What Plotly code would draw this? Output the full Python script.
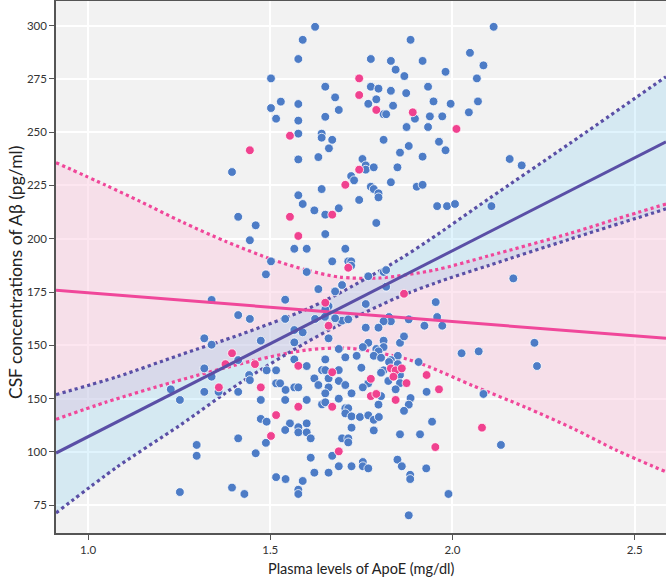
import plotly.graph_objects as go

# ---------------- data ----------------
blue_pts = [
    (1.623,299.4),(1.589,293.3),(1.577,284.3),(1.502,275.2),(1.651,271.3),(1.678,266.3),(1.529,264.3),
    (1.577,263.2),(1.502,261.3),(1.688,260.4),(1.516,256.3),(1.651,257.2),(1.577,255.4),(1.577,249.3),
    (1.641,249.3),(1.641,247.4),(1.670,246.4),(1.661,242.4),(1.577,237.2),(1.632,238.3),(1.395,231.3),
    (1.722,229.4),(1.730,227.4),(1.641,223.3),(1.577,220.4),(1.589,216.3),(1.621,213.3),(1.651,211.3),
    (1.688,214.3),(1.412,210.3),(1.460,206.3),(1.651,202.2),(1.444,199.3),(1.566,195.3),(1.600,195.3),
    (1.706,195.3),(1.502,189.4),(1.670,189.4),(1.714,189.4),(1.722,189.4),(1.722,187.4),(1.488,183.3),
    (1.600,184.4),(1.744,218.2),
    (2.113,299.4),(1.885,293.3),(2.048,287.2),(1.776,284.3),(1.831,283.4),(1.918,283.4),(2.085,281.3),
    (1.844,279.3),(1.981,278.3),(1.868,276.3),(2.067,275.2),(1.776,271.3),(1.797,270.4),(1.831,269.4),
    (1.933,271.3),(1.873,268.3),(1.791,265.4),(1.948,264.4),(2.070,264.4),(1.769,263.3),(1.837,262.4),
    (1.995,263.3),(1.811,258.4),(1.818,258.4),(1.938,257.4),(1.972,257.4),(2.045,259.3),(1.897,256.3),
    (1.874,252.4),(1.933,252.4),(1.811,246.4),(1.880,243.5),(1.963,245.5),(1.981,241.5),(1.856,240.4),
    (1.753,237.4),(1.762,234.4),(1.762,232.4),(1.784,233.5),(1.849,233.5),(1.918,238.5),(2.157,237.4),
    (2.190,234.4),(1.831,226.5),(1.776,224.4),(1.784,223.3),(1.797,221.3),(1.797,219.4),(1.902,224.4),
    (1.918,225.3),(1.958,215.3),(1.985,215.3),(2.007,216.3),(2.107,215.3),(1.791,207.4),(1.769,182.4),
    (1.811,184.4),(1.818,185.3),(2.167,181.4),
    (1.632,176.4),(1.697,178.3),(1.678,175.3),(1.339,171.3),(1.541,171.4),(1.660,168.4),(1.651,166.9),
    (1.412,164.2),(1.444,162.4),(1.541,162.4),(1.623,162.4),(1.650,163.4),(1.697,161.6),(1.678,162.7),
    (1.714,162.2),(1.566,157.2),(1.589,156.1),(1.660,153.3),(1.319,153.3),(1.474,152.2),(1.339,150.3),
    (1.566,151.4),(1.688,148.3),(1.319,139.2),(1.339,135.3),(1.412,143.1),(1.442,136.1),(1.444,133.7),
    (1.516,138.3),(1.490,138.3),(1.600,140.3),(1.651,143.4),(1.706,144.4),(1.737,145.1),(1.642,138.4),
    (1.651,138.4),(1.688,138.4),(1.621,134.5),(1.516,132.2),(1.527,132.2),(1.542,129.1),(1.566,130.3),
    (1.577,130.3),(1.632,131.4),(1.660,134.5),(1.688,133.3),(1.706,131.4),(1.723,127.5),(1.660,130.3),
    (1.651,127.5),(1.227,129.4),(1.252,124.4),(1.319,128.2),(1.358,128.2),(1.412,128.2),(1.474,124.4),
    (1.600,124.4),(1.642,122.3),(1.651,123.3),(1.706,120.5),(1.714,120.5),(1.706,118.1),(1.723,116.7),
    (1.474,115.5),(1.490,114.2),(1.554,113.4),(1.541,110.3),(1.577,111.6),(1.577,109.2),(1.600,113.4),
    (1.600,109.2),(1.723,111.4),(1.611,106.4),(1.412,106.4),(1.697,106.4),(1.714,106.4),(1.714,104.5),
    (1.298,103.3),(1.298,98.2),(1.488,104.3),(1.460,99.4),(1.670,98.2),(1.611,97.3),(1.688,93.3),
    (1.723,93.3),(1.621,90.3),(1.660,90.3),(1.516,88.2),(1.542,87.3),(1.589,86.4),(1.577,82.3),
    (1.577,80.3),(1.395,83.3),(1.429,80.3),(1.252,81.2),
    (1.954,170.3),(1.958,163.3),(1.972,159.2),(1.923,159.2),(1.880,162.2),(1.762,169.4),(1.818,177.5),
    (1.826,163.3),(1.831,161.3),(1.811,161.3),(1.797,158.3),(1.762,158.3),(1.769,151.2),(1.754,149.2),
    (1.811,152.2),(1.811,149.2),(1.791,148.3),(1.797,147.2),(1.784,145.1),(1.804,144.2),(1.856,151.2),
    (1.867,154.2),(1.850,145.1),(1.831,143.1),(1.826,142.2),(1.907,142.2),(1.850,141.2),(1.811,138.3),
    (1.804,137.2),(1.856,136.1),(1.824,133.3),(1.856,132.3),(1.769,132.2),(1.754,130.3),(1.844,129.4),
    (1.929,128.2),(1.804,126.2),(1.885,125.3),(1.880,122.2),(1.867,119.3),(1.797,122.2),(2.085,127.2),
    (2.025,146.3),(2.072,147.2),(2.225,151.2),(2.232,140.3),(1.746,116.4),(1.769,117.2),(1.784,115.1),
    (1.798,116.4),(1.784,110.1),(1.944,114.2),(1.856,108.3),(1.911,108.3),(2.133,103.3),(1.754,95.3),
    (1.754,93.3),(1.769,92.3),(1.849,96.4),(1.861,93.3),(1.884,89.3),(1.884,87.3),(1.928,92.3),
    (1.989,80.3),(1.880,70.3),(1.541,124.4),(1.566,143.4),(1.750,139.5),(1.688,125.0),
]
pink_pts = [
    (1.744,275.2),(1.744,267.4),(1.791,260.4),(1.891,259.3),(2.011,251.5),(1.554,248.3),(1.444,241.5),
    (1.744,232.4),(1.706,225.3),(1.670,211.3),(1.554,210.3),(1.577,201.3),(1.714,186.4),(1.651,170.0),
    (1.867,174.2),(1.660,159.2),(1.395,146.3),(1.377,141.2),(1.458,141.2),(1.577,140.4),(1.670,137.4),
    (1.474,130.3),(1.359,130.3),(1.577,121.2),(1.670,121.2),(1.516,117.3),(1.502,107.5),(1.688,100.3),
    (1.831,139.2),(1.844,138.3),(1.861,139.2),(1.838,135.3),(1.874,132.3),(1.776,134.3),(1.929,136.1),
    (1.963,129.4),(1.776,126.2),(1.791,127.2),(1.844,124.4),(2.081,111.4),(1.953,102.3),
]
blue_x = [p[0] for p in blue_pts]
blue_y = [p[1] for p in blue_pts]
pink_x = [p[0] for p in pink_pts]
pink_y = [p[1] for p in pink_pts]

# regression lines (end points read at the plot edges)
purple_fit_x = [0.912, 2.586]
purple_fit_y = [99.5, 245.5]
pink_fit_x = [0.912, 2.586]
pink_fit_y = [175.8, 153.3]

# confidence bands
purple_up_x = [0.912, 1.080, 1.252, 1.420, 1.595, 1.680, 1.851, 1.938, 2.100, 2.322, 2.586]
purple_up_y = [126.9, 135.3, 145.5, 155.2, 166.6, 173.6, 190.0, 199.6, 218.8, 244.7, 276.0]
purple_lo_x = [0.912, 1.080, 1.252, 1.420, 1.595, 1.680, 1.851, 1.952, 2.100, 2.322, 2.586]
purple_lo_y = [71.4, 93.0, 112.5, 132.7, 151.0, 158.8, 172.6, 179.2, 187.5, 199.8, 214.0]
pink_up_x = [0.912, 1.050, 1.143, 1.260, 1.380, 1.508, 1.600, 1.691, 1.800, 1.950, 2.100, 2.322, 2.450, 2.586]
pink_up_y = [235.7, 225.0, 217.5, 207.7, 198.6, 190.1, 185.3, 182.0, 181.6, 185.3, 192.0, 202.5, 209.3, 216.3]
pink_lo_x = [0.912, 1.050, 1.234, 1.453, 1.600, 1.720, 1.874, 1.938, 2.057, 2.200, 2.331, 2.450, 2.586]
pink_lo_y = [115.3, 123.4, 132.8, 142.8, 147.8, 148.6, 143.6, 139.8, 131.0, 121.0, 111.0, 100.8, 90.7]

y_tick_vals = [75, 100, 125, 150, 175, 200, 225, 250, 275, 300]
y_tick_text = ["75", "100", "150", "150", "175", "200", "225", "250", "275", "300"]
x_tick_vals = [1.0, 1.5, 2.0, 2.5]
x_tick_text = ["1.0", "1.5", "2.0", "2.5"]

# ---------------- styling ----------------
PURPLE = "#5a4fa6"
PINK = "#f0479a"
DOT_BLUE = "#4d7cc6"
DOT_PINK = "#f0428f"
FONT = "Lato"

fig = go.Figure()

# pink band
fig.add_trace(go.Scatter(x=pink_lo_x, y=pink_lo_y, mode="lines",
                         line=dict(width=0, shape="spline", smoothing=0.8), hoverinfo="skip", showlegend=False))
fig.add_trace(go.Scatter(x=pink_up_x, y=pink_up_y, mode="lines", fill="tonexty",
                         fillcolor="rgba(250,200,222,0.45)",
                         line=dict(width=0, shape="spline", smoothing=0.8), hoverinfo="skip", showlegend=False))
# blue band
fig.add_trace(go.Scatter(x=purple_lo_x, y=purple_lo_y, mode="lines",
                         line=dict(width=0, shape="spline", smoothing=0.8), hoverinfo="skip", showlegend=False))
fig.add_trace(go.Scatter(x=purple_up_x, y=purple_up_y, mode="lines", fill="tonexty",
                         fillcolor="rgba(70,190,245,0.17)",
                         line=dict(width=0, shape="spline", smoothing=0.8), hoverinfo="skip", showlegend=False))

# dotted CI lines
for xs, ys, col in [(pink_up_x, pink_up_y, PINK), (pink_lo_x, pink_lo_y, PINK),
                    (purple_up_x, purple_up_y, PURPLE), (purple_lo_x, purple_lo_y, PURPLE)]:
    fig.add_trace(go.Scatter(x=xs, y=ys, mode="lines",
                             line=dict(color=col, width=3.2, dash="dot", shape="spline", smoothing=0.8),
                             hoverinfo="skip", showlegend=False))

# points
fig.add_trace(go.Scatter(x=blue_x, y=blue_y, mode="markers",
                         marker=dict(size=8.8, color=DOT_BLUE, line=dict(color="white", width=0.8)),
                         showlegend=False))
fig.add_trace(go.Scatter(x=pink_x, y=pink_y, mode="markers",
                         marker=dict(size=8.8, color=DOT_PINK, line=dict(color="white", width=0.8)),
                         showlegend=False))

# fitted lines
fig.add_trace(go.Scatter(x=pink_fit_x, y=pink_fit_y, mode="lines",
                         line=dict(color=PINK, width=3), hoverinfo="skip", showlegend=False))
fig.add_trace(go.Scatter(x=purple_fit_x, y=purple_fit_y, mode="lines",
                         line=dict(color=PURPLE, width=3), hoverinfo="skip", showlegend=False))

fig.update_layout(
    width=666, height=579,
    margin=dict(l=56, r=0, t=1, b=46),
    paper_bgcolor="white", plot_bgcolor="#f2f2f2",
    font=dict(family=FONT, color="#333333", size=12),
    xaxis=dict(range=[0.912, 2.586], tickvals=x_tick_vals, ticktext=x_tick_text,
               showgrid=True, gridcolor="white", gridwidth=1.5, zeroline=False,
               showline=True, linecolor="#555555", linewidth=1.5, mirror=True,
               ticks="outside", ticklen=5, tickcolor="#555555", tickwidth=1.2,
               tickfont=dict(size=11.5, family=FONT, color="#333")),
    yaxis=dict(range=[62.0, 311.5], tickvals=y_tick_vals, ticktext=y_tick_text,
               showgrid=True, gridcolor="white", gridwidth=1.5, zeroline=False,
               showline=True, linecolor="#555555", linewidth=1.5,
               ticks="outside", ticklen=5, tickcolor="#555555", tickwidth=1.2,
               tickfont=dict(size=11.5, family=FONT, color="#333")),
    annotations=[
        dict(text="Plasma levels of ApoE (mg/dl)", xref="paper", yref="paper",
             x=0.5, y=-0.066, xanchor="center", yanchor="middle", showarrow=False,
             font=dict(size=14.5, family=FONT, color="#222")),
        dict(text="CSF concentrations of Aβ (pg/ml)", xref="paper", yref="paper",
             x=-0.066, y=0.49, xanchor="center", yanchor="middle", showarrow=False,
             textangle=-90, font=dict(size=17.5, family=FONT, color="#222")),
    ],
)

fig.write_html("out.html", config={"displayModeBar": False},
               post_script="document.body.style.margin='0';document.body.style.overflow='hidden';")
